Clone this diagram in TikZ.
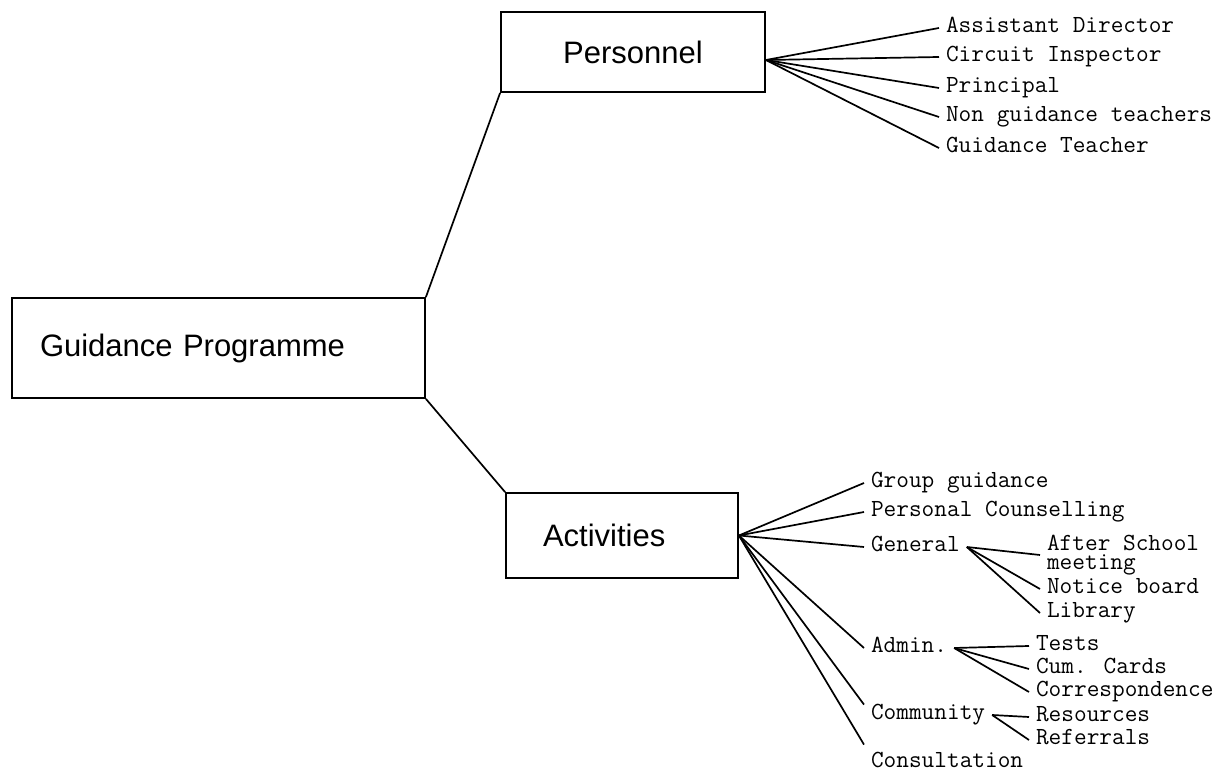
\documentclass[tikz,border=0pt]{standalone}
\usepackage{fontspec}
\setsansfont{Liberation Sans}
\usetikzlibrary{positioning}
\setlength{\lineskiplimit}{-20pt}
\tikzstyle{box} = [rectangle, draw=black, line width=0.9pt, font=\sffamily\fontsize{15.5}{18}\selectfont]
\tikzstyle{branch} = [line width=0.85pt]
\tikzstyle{leaf} = [anchor=west, inner ysep=0.5pt, font=\ttfamily\fontsize{12.3}{12}\selectfont, text height=7pt, text depth=2pt]
\tikzstyle{leaftwo} = [anchor=west, inner ysep=0.5pt, align=left, font=\ttfamily\fontsize{12.3}{9.5}\selectfont]

\begin{document}
\begin{tikzpicture}[x=0.5pt, y=-0.5pt]
      \useasboundingbox (0,0) rectangle (1222,774);
      \node (gp) [box, minimum width=206.5pt, minimum height=50pt, text width=178.5pt, inner xsep=14pt, align=left] at (218.5,348) {Guidance Programme};
      \node (pers) [box, minimum width=132pt, minimum height=40pt] at (633,52) {Personnel};
      \node (act) [box, minimum width=116pt, minimum height=42.5pt, text width=79pt, inner xsep=18.5pt, align=left] at (622,535.5) {Activities};
      \draw [branch] (gp.north east) -- (pers.south west);
      \draw [branch] (gp.south east) -- (act.north west);

      % personnel
      \coordinate (phub) at ([yshift=-4pt]pers.east);
      \node (asst) [leaf] at (939,28) {Assistant Director};
      \node (insp) [leaf] at (939,57) {Circuit Inspector};
      \node (prin) [leaf] at (939,88) {Principal};
      \node (nong) [leaf] at (939,117) {Non guidance teachers};
      \node (gteach) [leaf] at (939,148) {Guidance Teacher};
      \draw [branch] (phub) -- (asst.west);
      \draw [branch] (phub) -- (insp.west);
      \draw [branch] (phub) -- (prin.west);
      \draw [branch] (phub) -- (nong.west);
      \draw [branch] (phub) -- (gteach.west);

      % activities
      \node (grp) [leaf] at (864,483) {Group guidance};
      \node (pcoun) [leaf] at (864,512) {Personal Counselling};
      \node (gen) [leaf] at (864,547) {General};
      \node (adm) [leaf] at (864,648) {Admin.};
      \node (comm) [leaf] at (864,715) {Community};
      \node (cons) [leaf] at (864,763) {Consultation};
      \coordinate (consend) at ([yshift=4pt]cons.north west);
      \draw [branch] (act.east) -- (grp.west);
      \draw [branch] (act.east) -- (pcoun.west);
      \draw [branch] (act.east) -- (gen.west);
      \draw [branch] (act.east) -- (adm.west);
      \draw [branch] (act.east) -- (comm.north west);
      \draw [branch] (act.east) -- (consend);

      \node (after) [leaftwo] at (1040,555) {After School\\meeting};
      \node (notice) [leaf] at (1040,589) {Notice board};
      \node (lib) [leaf] at (1040,613) {Library};
      \draw [branch] (gen.east) -- (after.west);
      \draw [branch] (gen.east) -- (notice.west);
      \draw [branch] (gen.east) -- (lib.west);

      \node (tests) [leaf] at (1029,646) {Tests};
      \node (cum) [leaf] at (1029,669) {Cum. Cards};
      \node (corr) [leaf] at (1029,692) {Correspondence};
      \draw [branch] (adm.east) -- (tests.west);
      \draw [branch] (adm.east) -- (cum.west);
      \draw [branch] (adm.east) -- (corr.west);

      \node (res) [leaf] at (1029,717) {Resources};
      \node (ref) [leaf] at (1029,740) {Referrals};
      \draw [branch] (comm.east) -- (res.west);
      \draw [branch] (comm.east) -- (ref.west);
    \end{tikzpicture}
\end{document}
